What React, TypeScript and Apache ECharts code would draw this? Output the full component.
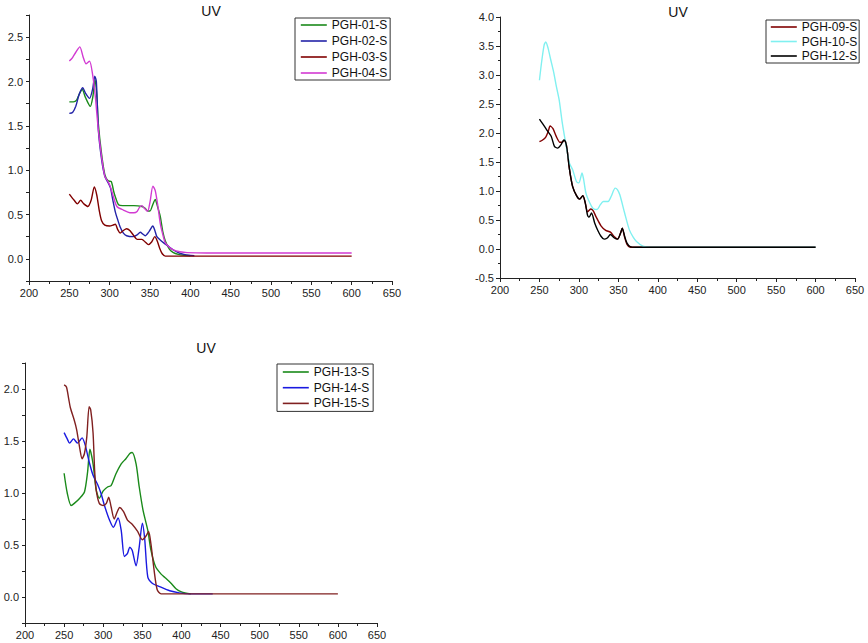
import React, { useEffect, useRef } from "react";
import * as echarts from "echarts";

// ---------- data (wavelength nm, absorbance) ----------
const xTicks = [200, 250, 300, 350, 400, 450, 500, 550, 600, 650];

const pgh01 = [[250,1.77],[255,1.77],[259,1.79],[263,1.87],[266,1.91],[270,1.82],[276,1.72],[279,1.82],[282,2.02],[284,1.85],[286,1.52],[290,1.18],[294,0.95],[298,0.88],[302,0.87],[305,0.76],[307,0.70],[311,0.61],[316,0.60],[321,0.60],[330,0.60],[340,0.59],[344,0.57],[347,0.54],[350,0.54],[353,0.60],[356.5,0.67],[359,0.60],[362.7,0.48],[366,0.30],[369,0.20],[374,0.11],[379,0.07],[385,0.05],[392,0.04],[400,0.035]];
const pgh02 = [[250,1.64],[254,1.65],[258,1.72],[262,1.85],[266.5,1.93],[270,1.87],[275,1.81],[279,1.92],[281.5,2.06],[283.5,2.00],[286,1.45],[290,1.12],[294,0.93],[298,0.86],[301,0.80],[304,0.66],[307,0.53],[310,0.44],[313,0.36],[317,0.29],[321,0.26],[329,0.25],[334,0.27],[338,0.30],[341,0.28],[344,0.26],[349,0.31],[353.5,0.37],[356,0.32],[358.5,0.25],[363,0.21],[367,0.18],[373,0.14],[379,0.10],[385,0.07],[392,0.05],[398,0.04],[405,0.035]];
const pgh03 = [[250,0.73],[256,0.66],[260,0.62],[264,0.66],[268,0.62],[273,0.59],[277,0.66],[281,0.81],[284,0.72],[287,0.55],[290,0.43],[294,0.38],[300,0.37],[304,0.38],[307,0.39],[310,0.33],[313,0.29],[317,0.32],[321,0.34],[325,0.32],[330,0.26],[334,0.22],[340,0.22],[344,0.19],[348,0.16],[352,0.19],[356,0.25],[359,0.20],[362,0.12],[365,0.06],[369,0.03],[450,0.03],[600,0.03]];
const pgh04 = [[250,2.23],[254,2.27],[258,2.33],[263,2.39],[267,2.28],[270.8,2.20],[275,2.23],[279,2.07],[282,1.85],[286,1.45],[290,1.15],[294,0.93],[298,0.87],[300.6,0.82],[304,0.72],[309,0.59],[317,0.55],[325,0.52],[330,0.52],[334,0.535],[337,0.58],[340,0.60],[343,0.57],[347,0.535],[350,0.64],[353.6,0.82],[356.5,0.77],[360,0.58],[362.7,0.40],[366,0.27],[369,0.18],[374,0.13],[379,0.10],[387,0.08],[396,0.07],[420,0.065],[600,0.065]];

const pgh09 = [[250,1.85],[254,1.88],[258,1.93],[261,2.02],[263.5,2.12],[267,2.08],[271,1.95],[276,1.84],[279,1.84],[281,1.87],[283,1.85],[285,1.72],[288,1.38],[292,1.08],[297,0.92],[301,0.86],[305,0.92],[308,0.80],[311,0.64],[315,0.69],[318,0.66],[322,0.55],[328,0.40],[334,0.32],[340,0.29],[345,0.21],[349,0.17],[353,0.28],[355,0.36],[358,0.20],[361,0.08],[365,0.03],[600,0.03]];
const pgh10 = [[250,2.91],[253,3.25],[256,3.52],[258,3.57],[261,3.46],[264,3.28],[268,3.05],[271.5,2.80],[275,2.57],[279,2.17],[284,1.77],[288,1.48],[292,1.37],[297,1.16],[300,1.14],[304,1.31],[306,1.20],[309,0.96],[314,0.79],[318,0.70],[323,0.68],[327,0.76],[331,0.82],[337,0.82],[341,0.91],[346,1.05],[349,1.02],[352,0.93],[358,0.62],[364,0.33],[369,0.20],[373,0.13],[381,0.05],[390,0.03],[600,0.03]];
const pgh12 = [[250,2.24],[254,2.16],[257,2.10],[261,2.02],[265,1.94],[269,1.77],[273,1.74],[277,1.79],[281,1.88],[283,1.85],[285,1.72],[288,1.38],[292,1.08],[297,0.92],[301,0.86],[305,0.92],[308,0.80],[311,0.58],[313,0.55],[316,0.62],[320,0.45],[324,0.32],[328,0.22],[332,0.17],[336,0.19],[340,0.25],[345,0.19],[349,0.17],[353,0.28],[355,0.36],[358,0.22],[361,0.10],[365,0.04],[372,0.03],[600,0.03]];

const pgh13 = [[250,1.19],[254,1.00],[259,0.88],[263,0.90],[270,0.95],[276,1.01],[280,1.20],[283,1.42],[287,1.28],[291,1.03],[295,0.95],[300,1.02],[306,1.06],[310,1.07],[316,1.18],[323,1.28],[329,1.33],[334,1.38],[337,1.39],[342,1.28],[346,1.06],[351,0.83],[357,0.64],[361,0.45],[367,0.29],[374,0.22],[380,0.18],[387,0.13],[393,0.08],[400,0.05],[412,0.03]];
const pgh14 = [[250,1.58],[254,1.52],[257,1.48],[262,1.52],[267,1.48],[273,1.53],[277,1.46],[282,1.30],[287,1.17],[293,1.08],[297,1.00],[302,0.87],[308,0.74],[313,0.67],[319,0.76],[323,0.64],[327,0.39],[331,0.42],[334,0.48],[337,0.45],[342,0.30],[346,0.48],[350,0.71],[353,0.56],[357,0.19],[363,0.13],[372,0.10],[385,0.06],[397,0.04],[410,0.03],[440,0.03]];
const pgh15 = [[250,2.04],[253,2.02],[256,1.90],[258,1.82],[263,1.70],[266,1.61],[270,1.43],[273,1.33],[276,1.38],[279,1.54],[282,1.83],[284,1.80],[287,1.58],[289,1.22],[291,1.03],[295,0.90],[300,0.88],[304,0.90],[307,0.96],[310,0.87],[314,0.75],[318,0.82],[321,0.86],[326,0.82],[331,0.74],[337,0.70],[344,0.63],[350,0.55],[355,0.59],[358,0.63],[361,0.51],[365,0.26],[369,0.07],[374,0.03],[600,0.03]];

const names1 = ["PGH-01-S", "PGH-02-S", "PGH-03-S", "PGH-04-S"];
const names2 = ["PGH-09-S", "PGH-10-S", "PGH-12-S"];
const names3 = ["PGH-13-S", "PGH-14-S", "PGH-15-S"];

const FONT = "Liberation Sans, Arial, sans-serif";
const AX = "#222";

function xAxisFor(gridIndex: number) {
  return {
    type: "value",
    gridIndex,
    min: xTicks[0],
    max: xTicks[xTicks.length - 1],
    interval: 50,
    axisLine: { show: true, onZero: false, lineStyle: { color: AX, width: 1 } },
    axisTick: { show: true, inside: false, length: 4, lineStyle: { color: AX } },
    minorTick: { show: true, splitNumber: 2, length: 3, lineStyle: { color: AX } },
    splitLine: { show: false },
    minorSplitLine: { show: false },
    axisLabel: { color: AX, fontSize: 11, fontFamily: FONT, margin: 6 },
  };
}

function yAxisQuarter(gridIndex: number, min: number, max: number) {
  return {
    type: "value",
    gridIndex,
    min,
    max,
    interval: 0.25,
    axisLine: { show: true, lineStyle: { color: AX, width: 1 } },
    axisTick: { show: true, inside: false, length: 3, lineStyle: { color: AX } },
    splitLine: { show: false },
    axisLabel: {
      color: AX,
      fontSize: 11,
      fontFamily: FONT,
      margin: 6,
      formatter: (v: number) =>
        Math.abs(v * 2 - Math.round(v * 2)) < 1e-6 ? v.toFixed(1) : "",
    },
  };
}

function yAxisHalf(gridIndex: number, min: number, max: number) {
  return {
    type: "value",
    gridIndex,
    min,
    max,
    interval: 0.5,
    axisLine: { show: true, lineStyle: { color: AX, width: 1 } },
    axisTick: { show: true, inside: false, length: 4, lineStyle: { color: AX } },
    minorTick: { show: true, splitNumber: 2, length: 2, lineStyle: { color: AX } },
    splitLine: { show: false },
    minorSplitLine: { show: false },
    axisLabel: {
      color: AX,
      fontSize: 11,
      fontFamily: FONT,
      margin: 6,
      formatter: (v: number) => v.toFixed(1),
    },
  };
}

function line(name: string, data: number[][], color: string, idx: number) {
  return {
    type: "line",
    name,
    data,
    xAxisIndex: idx,
    yAxisIndex: idx,
    symbol: "none",
    smooth: 0.25,
    lineStyle: { color, width: 1.4 },
    itemStyle: { color },
  };
}

function legendFor(data: string[], left: number, top: number, gap: number, pad: number[]) {
  return {
    data,
    orient: "vertical",
    left,
    top,
    itemWidth: 26,
    itemHeight: 12,
    itemGap: gap,
    padding: pad,
    borderColor: "#333",
    borderWidth: 1,
    backgroundColor: "#fff",
    itemStyle: { opacity: 0 },
    lineStyle: { width: 1.6 },
    textStyle: { fontSize: 12, fontFamily: FONT, color: "#111" },
  };
}

export default function App() {
  const ref = useRef<HTMLDivElement>(null);
  useEffect(() => {
    if (!ref.current) return;
    const chart = echarts.init(ref.current, undefined, { renderer: "svg" });
    chart.setOption({
      animation: false,
      backgroundColor: "#fff",
      title: [
        { text: "UV", left: 211, top: 4, textAlign: "center", padding: 0, textStyle: { fontSize: 14, fontWeight: "normal", fontFamily: FONT, color: "#111" } },
        { text: "UV", left: 678, top: 5, textAlign: "center", padding: 0, textStyle: { fontSize: 14, fontWeight: "normal", fontFamily: FONT, color: "#111" } },
        { text: "UV", left: 206, top: 341, textAlign: "center", padding: 0, textStyle: { fontSize: 14, fontWeight: "normal", fontFamily: FONT, color: "#111" } },
      ],
      legend: [
        legendFor(names1, 295, 18, 4, [1, 3, 1, 5]),
        legendFor(names2, 766, 20, 2.5, [1, 2, 1, 4]),
        legendFor(names3, 277, 364, 3.7, [2, 4, 2, 5]),
      ],
      grid: [
        { left: 29, top: 15, width: 363, height: 266 },
        { left: 500, top: 17, width: 355, height: 261 },
        { left: 25, top: 363, width: 352, height: 260 },
      ],
      xAxis: [xAxisFor(0), xAxisFor(1), xAxisFor(2)],
      yAxis: [
        yAxisQuarter(0, -0.25, 2.75),
        yAxisHalf(1, -0.5, 4.0),
        yAxisQuarter(2, -0.25, 2.25),
      ],
      series: [
        line(names1[0], pgh01, "#1a8a1a", 0),
        line(names1[1], pgh02, "#2323a8", 0),
        line(names1[2], pgh03, "#800000", 0),
        line(names1[3], pgh04, "#d23ad2", 0),
        line(names2[0], pgh09, "#800000", 1),
        line(names2[1], pgh10, "#80f0f0", 1),
        line(names2[2], pgh12, "#000000", 1),
        line(names3[0], pgh13, "#1a8a1a", 2),
        line(names3[1], pgh14, "#1a1ae0", 2),
        line(names3[2], pgh15, "#802020", 2),
      ],
    });
    return () => chart.dispose();
  }, []);
  return (
    <div
      ref={ref}
      style={{ position: "absolute", left: 0, top: 0, width: 868, height: 643, background: "#fff" }}
    />
  );
}
